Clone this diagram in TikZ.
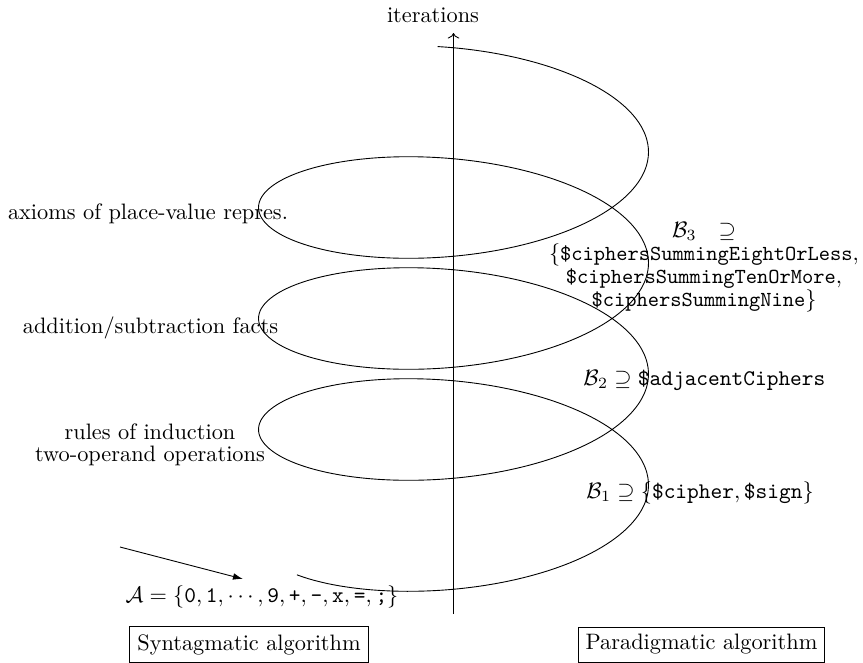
\documentclass[tikz,border=0pt]{standalone}
\usetikzlibrary{arrows.meta}
\begin{document}
\begin{tikzpicture}[x=0.448pt,y=-0.448pt,
  lbl/.style={inner sep=0pt},
  algbox/.style={draw, inner sep=0.3333em},
  spiral/.style={line width=0.4pt}]
\useasboundingbox (0,0) rectangle (863,662);
% axis
\coordinate (axbot) at (453.5,614);
\coordinate (axtop) at (453.5,33);
\draw[->] (axbot) -- (axtop);
\node[lbl, anchor=base] (iter) at (433,22) {iterations};
% helix
\draw[spiral] plot[domain=216.6:1534.7, samples=500, smooth]
  ({453.5+195*cos(\x)}, {540.5-(\x-180)*0.308333-76.5*sin(\x)});
% left labels
\node[lbl, anchor=base] (axioms) at (148,219) {axioms of place-value repres.};
\node[lbl, anchor=base] (facts) at (150.5,333) {addition/subtraction facts};
\node[lbl, align=center, font=\fontsize{10pt}{9.9pt}\selectfont] (rules) at (150,445)
  {rules of induction\\two-operand operations};
% right labels
\node[lbl, align=center, font=\fontsize{9.6pt}{10.4pt}\selectfont] (b3) at (704,267)
  {$\mathcal{B}_3\hspace{7pt}\supseteq$\\
   $\{\texttt{\$ciphersSummingEightOrLess},$\\
   $\texttt{\$ciphersSummingTenOrMore},$\\
   $\texttt{\$ciphersSummingNine}\}$};
\node[lbl, anchor=base west] (b2) at (583,385)
  {$\mathcal{B}_2\supseteq\texttt{\$adjacentCiphers}$};
\node[lbl, anchor=base west] (b1) at (586,498)
  {$\mathcal{B}_1\supseteq\{\texttt{\$cipher},\texttt{\$sign}\}$};
% alphabet
\node[lbl, anchor=base] (alpha) at (262,602)
  {$\mathcal{A}=\{\texttt{0},\texttt{1},\cdots,\texttt{9},\texttt{+},\texttt{-},\texttt{x},\texttt{=},\texttt{;}\}$};
\coordinate (arrS) at (120,547);
\coordinate (arrE) at (243,579);
\draw[-{Latex[length=4.5pt,width=3pt]}] (arrS) -- (arrE);
% boxes
\node[algbox] (syn) at (249,644.5) {Syntagmatic algorithm};
\node[algbox] (par) at (701.5,644.5) {Paradigmatic algorithm};
\end{tikzpicture}
\end{document}
